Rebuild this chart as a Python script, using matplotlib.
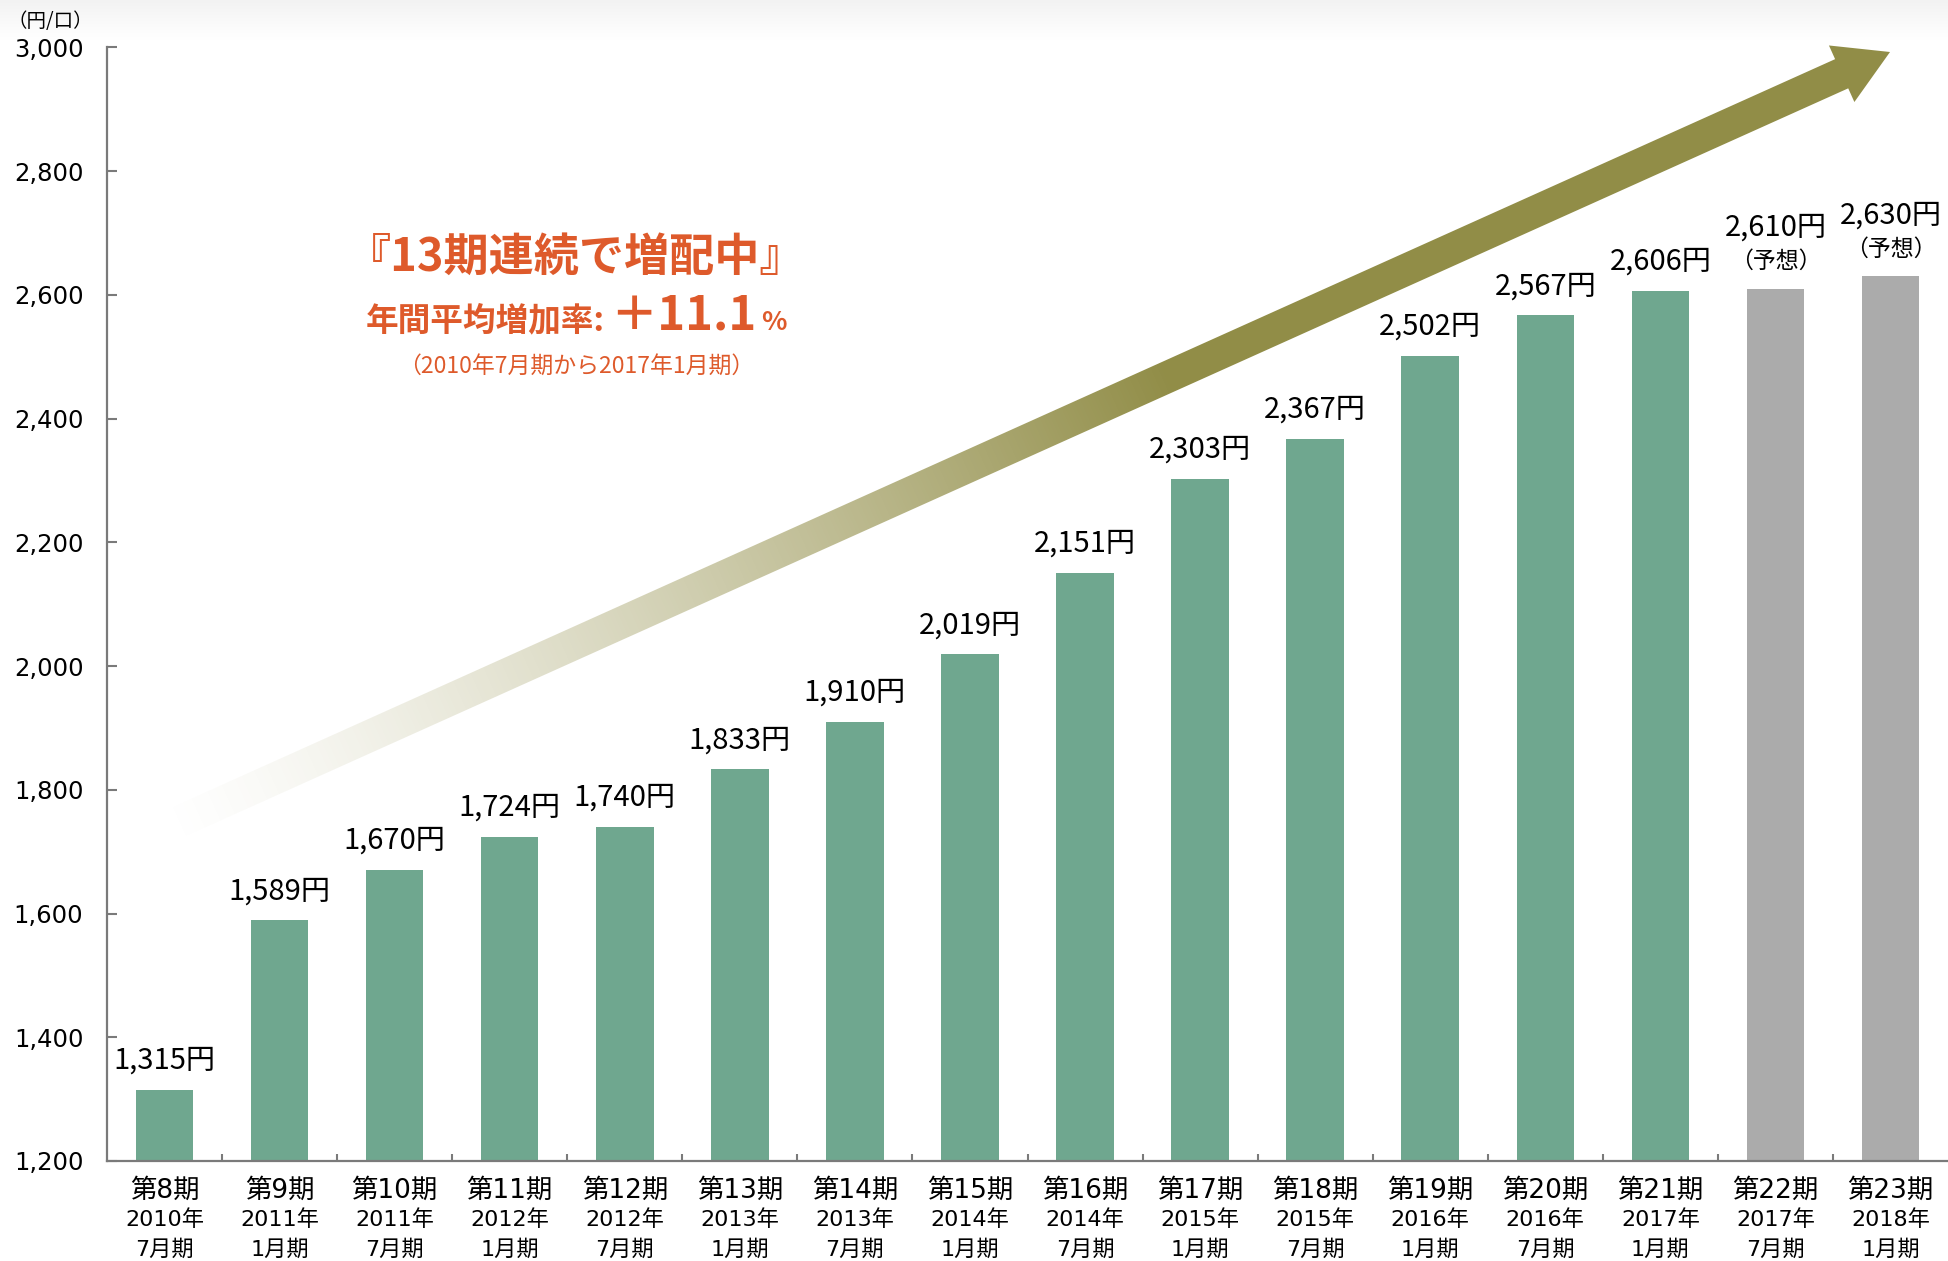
import numpy as np
import matplotlib
matplotlib.use('Agg')
import matplotlib.pyplot as plt
from matplotlib.patches import Polygon
from matplotlib.colors import to_rgb

plt.rcParams['font.family'] = ['Noto Sans CJK JP', 'DejaVu Sans']

periods = ['第8期', '第9期', '第10期', '第11期', '第12期', '第13期', '第14期', '第15期',
           '第16期', '第17期', '第18期', '第19期', '第20期', '第21期', '第22期', '第23期']
years = ['2010年', '2011年', '2011年', '2012年', '2012年', '2013年', '2013年', '2014年',
         '2014年', '2015年', '2015年', '2016年', '2016年', '2017年', '2017年', '2018年']
months = ['7月期', '1月期', '7月期', '1月期', '7月期', '1月期', '7月期', '1月期',
          '7月期', '1月期', '7月期', '1月期', '7月期', '1月期', '7月期', '1月期']
dividends = [1315, 1589, 1670, 1724, 1740, 1833, 1910, 2019,
             2151, 2303, 2367, 2502, 2567, 2606, 2610, 2630]
forecast = [False] * 14 + [True, True]

GREEN = '#6FA78F'
GREY = '#ABABAB'
OLIVE = '#918D47'
ORANGE = '#DE5A2B'
AXC = '#7A7A7A'

W, H = 1948, 1261
fig = plt.figure(figsize=(W / 100, H / 100), dpi=100)

# ---- background layer (pixel coords): faint top band + gradient arrow ----
bg = fig.add_axes([0, 0, 1, 1], zorder=0)
bg.set_xlim(0, W); bg.set_ylim(H, 0); bg.axis('off')
band = np.linspace(0, 1, 60)[:, None]
top_rgba = np.ones((60, 1, 4)); top_rgba[..., :3] = 0.95 + 0.05 * band[..., None]
bg.imshow(top_rgba, extent=(0, W, 40, 0), aspect='auto', interpolation='bilinear')

tip = np.array([1890.0, 52.0]); tail = np.array([165.0, 828.0])
d = tip - tail; length = np.hypot(*d); u = d / length; n = np.array([-u[1], u[0]])
base = tip - 53 * u
pts = [tail - 16 * n, base - 16 * n, base - 31 * n, tip, base + 31 * n, base + 16 * n, tail + 16 * n]
poly = Polygon(pts, closed=True, facecolor='none', edgecolor='none')
bg.add_patch(poly)
yy, xx = np.mgrid[0:900, 0:W]
t = ((xx - tail[0]) * u[0] + (yy - tail[1]) * u[1]) / length
alpha = np.clip(t / 0.58, 0, 1) ** 1.3
img = np.zeros((900, W, 4)); img[..., :3] = to_rgb(OLIVE); img[..., 3] = alpha
im = bg.imshow(img, extent=(0, W, 900, 0), aspect='auto', interpolation='nearest')
im.set_clip_path(poly)

# ---- main bar chart ----
left, right = 107 / W, 1.0
bottom, top = 1 - 1161 / H, 1 - 47.5 / H
ax = fig.add_axes([left, bottom, right - left, top - bottom], zorder=1)
ax.patch.set_alpha(0)
x = np.arange(len(dividends))
colors = [GREY if f else GREEN for f in forecast]
ax.bar(x, dividends, width=0.5, color=colors, zorder=2)
ax.set_xlim(-0.5, 15.5)
ax.set_ylim(1200, 3000)
ax.set_yticks(np.arange(1200, 3001, 200))
ax.set_yticklabels([f'{v:,}' for v in range(1200, 3001, 200)], family='DejaVu Sans', fontsize=17.5)
ax.tick_params(axis='y', direction='in', length=7, width=1.5, color=AXC, pad=17)
ax.set_xticks([])
ax.set_xticks(np.arange(0.5, 15, 1), minor=True)
ax.tick_params(axis='x', which='minor', direction='in', length=5, width=1.5, color=AXC)
for s in ['top', 'right']:
    ax.spines[s].set_visible(False)
for s in ['left', 'bottom']:
    ax.spines[s].set_color(AXC); ax.spines[s].set_linewidth(1.6)

# value labels
for xi, v, f in zip(x, dividends, forecast):
    if f:
        ax.annotate('（予想）', (xi, v), xytext=(0, 19.5), textcoords='offset points',
                    ha='center', va='center', fontsize=16.5)
        ax.annotate(f'{v:,}円', (xi, v), xytext=(0, 44), textcoords='offset points',
                    ha='center', va='center', fontsize=21)
    else:
        ax.annotate(f'{v:,}円', (xi, v), xytext=(0, 21), textcoords='offset points',
                    ha='center', va='center', fontsize=21)

# category labels
tr = ax.get_xaxis_transform()
for xi, p, yr, m in zip(x, periods, years, months):
    ax.annotate(p, (xi, 0), xycoords=tr, xytext=(0, -21.5), textcoords='offset points',
                ha='center', va='center', fontsize=19, family=['DejaVu Sans', 'Noto Sans CJK JP'])
    ax.annotate(yr, (xi, 0), xycoords=tr, xytext=(0, -42.5), textcoords='offset points',
                ha='center', va='center', fontsize=16, family=['DejaVu Sans', 'Noto Sans CJK JP'])
    ax.annotate(m, (xi, 0), xycoords=tr, xytext=(0, -63.5), textcoords='offset points',
                ha='center', va='center', fontsize=16, family=['DejaVu Sans', 'Noto Sans CJK JP'])

fig.text(50 / W, 1 - 22 / H, '（円/口）', ha='center', va='center', fontsize=14)

# ---- headline ----
cx = 576 / W
fig.text(cx, 1 - 258 / H, '『13期連続で増配中』', ha='center', va='center',
         fontsize=32.5, fontweight='bold', color=ORANGE)
fig.text(cx, 1 - 366 / H, '（2010年7月期から2017年1月期）', ha='center', va='center',
         fontsize=16.5, color=ORANGE)

parts = [('年間平均増加率:', 23.5), ('＋11.1', 34), ('%', 19)]
base_y = 1 - 330 / H
texts = [fig.text(0, base_y, s, ha='left', va='baseline', fontsize=fs,
                  fontweight='bold', color=ORANGE) for s, fs in parts]
renderer = fig.canvas.get_renderer()
widths = [tx.get_window_extent(renderer).width for tx in texts]
gap = 5
xpos = cx * W - (sum(widths) + gap * (len(widths) - 1)) / 2
for tx, w in zip(texts, widths):
    tx.set_x(xpos / W)
    xpos += w + gap

fig.savefig('out.png', dpi=100)
